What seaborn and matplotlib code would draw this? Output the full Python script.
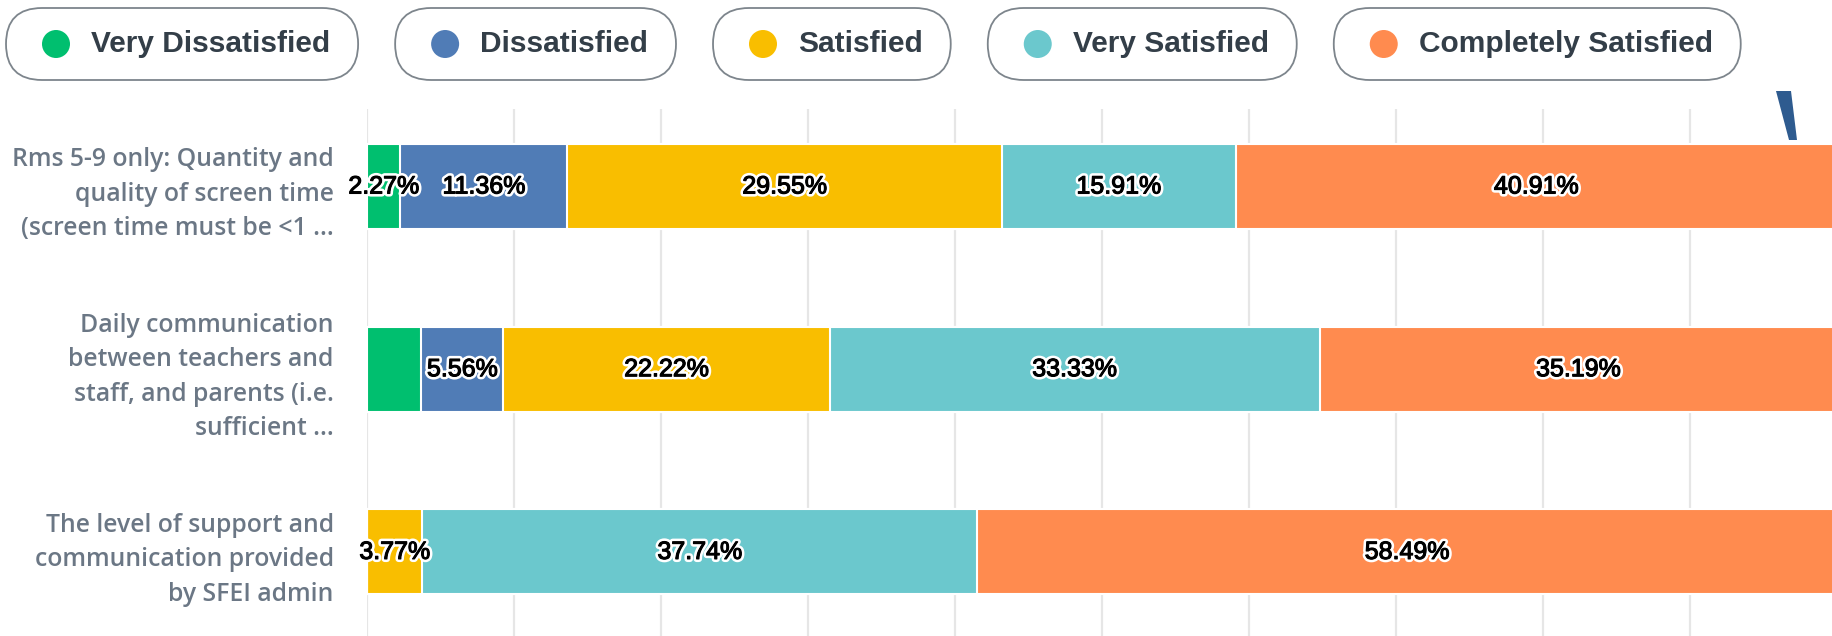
import numpy as np
import pandas as pd
import matplotlib
matplotlib.use("Agg")
import matplotlib.pyplot as plt
import matplotlib.patheffects as pe
from matplotlib.patches import FancyBboxPatch, Circle, Polygon
import seaborn as sns

# Survey answers (percent of respondents) per question
questions = [
    "Rms 5-9 only: Quantity and\nquality of screen time\n(screen time must be <1 ...",
    "Daily communication\nbetween teachers and\nstaff, and parents (i.e.\nsufficient ...",
    "The level of support and\ncommunication provided\nby SFEI admin",
]
categories = ["Very Dissatisfied", "Dissatisfied", "Satisfied",
              "Very Satisfied", "Completely Satisfied"]
very_dissatisfied = [2.27, 3.70, 0.0]
dissatisfied = [11.36, 5.56, 0.0]
satisfied = [29.55, 22.22, 3.77]
very_satisfied = [15.91, 33.33, 37.74]
completely_satisfied = [40.91, 35.19, 58.49]
# segments whose label is not printed in the original
hidden_labels = [(1, "Very Dissatisfied"), (2, "Very Dissatisfied"), (2, "Dissatisfied")]

colors = ["#00bf6f", "#507cb6", "#f9be00", "#6bc8cd", "#ff8b4f"]

df = pd.DataFrame({"question": questions,
                   "Very Dissatisfied": very_dissatisfied,
                   "Dissatisfied": dissatisfied,
                   "Satisfied": satisfied,
                   "Very Satisfied": very_satisfied,
                   "Completely Satisfied": completely_satisfied})
cum = df[categories].cumsum(axis=1)

sns.set_theme(style="white")
plt.rcParams["font.family"] = ["Liberation Sans", "DejaVu Sans"]

W, H = 1833, 636
fig = plt.figure(figsize=(W / 100, H / 100), dpi=100)
ax = fig.add_axes([367 / W, 0, 1470 / W, 527 / H])

# stacked bars: draw cumulative totals from the last category back to the first
for cat, col in reversed(list(zip(categories, colors))):
    sns.barplot(x=cum[cat], y=df["question"], color=col, orient="h", saturation=1,
                width=0.465, edgecolor="white", linewidth=1.5, ax=ax, zorder=2)

# percentage labels in the middle of each segment
halo = [pe.withStroke(linewidth=4.5, foreground="white"),
        pe.Stroke(linewidth=0.8, foreground="black"), pe.Normal()]
for i in range(len(questions)):
    start = 0.0
    for cat in categories:
        v = df.loc[i, cat]
        if v > 0 and (i, cat) not in hidden_labels:
            ax.text(start + v / 2, i, f"{v:.2f}%", ha="center", va="center",
                    fontsize=18, color="black", zorder=5, path_effects=halo)
        start += v

ax.set_xlim(0, 100)
ax.set_ylim(2.46, -0.424)
ax.set_xticks(np.arange(0, 101, 10))
ax.set_xticklabels([])
ax.grid(axis="x", color="#e6e6e6", linewidth=1.6, zorder=0)
ax.set_axisbelow(True)
for s in ax.spines.values():
    s.set_visible(False)
ax.set_xlabel("")
ax.set_ylabel("")
ax.tick_params(axis="y", length=0, pad=24)
ax.tick_params(axis="x", length=0)
for lab in ax.get_yticklabels():
    lab.set_fontfamily(["Open Sans", "DejaVu Sans"])
    lab.set_fontweight("semibold")
    lab.set_fontsize(17.8)
    lab.set_color("#6b7785")
    lab.set_linespacing(1.5)

# pill-shaped legend across the top
ov = fig.add_axes([0, 0, 1, 1], zorder=10)
ov.set_xlim(0, W)
ov.set_ylim(H, 0)
ov.axis("off")
ov.patch.set_alpha(0)
renderer = fig.canvas.get_renderer()
x = 6
for cat, col in zip(categories, colors):
    t = ov.text(x + 85, 44, cat, ha="left", va="center", fontsize=21.5,
                fontweight="bold", color="#333e48", zorder=3)
    tw = t.get_window_extent(renderer=renderer).width
    w = 85 + tw + 28
    ov.add_patch(FancyBboxPatch((x, 8), w, 72,
                                boxstyle="round,pad=0,rounding_size=36",
                                facecolor="white", edgecolor="#7d858c",
                                linewidth=1.3, zorder=1))
    ov.add_patch(Circle((x + 50, 44), 14, facecolor=col, edgecolor="none", zorder=2))
    x = x + w + 37

# stray dark mark at the top right of the original screenshot
ov.add_patch(Polygon([[1776, 91], [1791, 91], [1797, 140], [1789, 140]],
                     closed=True, facecolor="#2e5b8f", edgecolor="none"))

fig.savefig("out.png", dpi=100)
